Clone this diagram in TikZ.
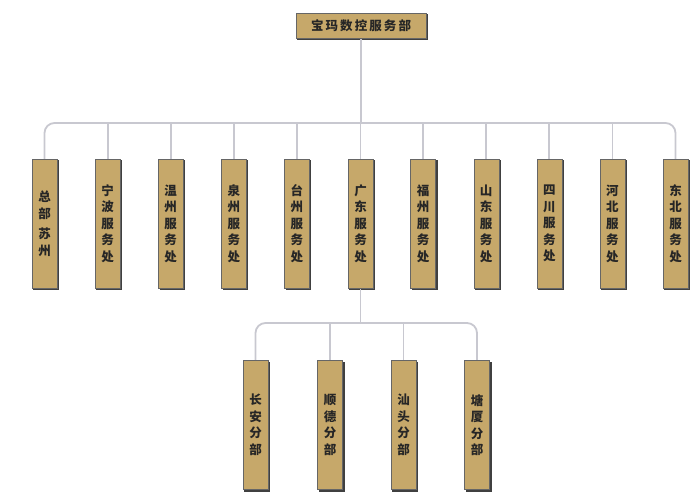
\documentclass[tikz,border=0pt]{standalone}
\usepackage{fontspec}
\newfontfamily\cjk{Noto Sans CJK SC}
\usetikzlibrary{backgrounds}
\definecolor{tan}{RGB}{198,168,106}
\definecolor{wire}{RGB}{200,200,208}
\begin{document}
\begin{tikzpicture}[x=1pt,y=-1pt,
  box/.style={draw=black!60,fill=tan,inner sep=0pt,align=center,
    font=\cjk\bfseries\fontsize{12.5}{16.5}\selectfont,text=black!85},
  col/.style={box,minimum width=25pt,minimum height=129pt},
  shade/.style={fill=black!75},
  wires/.style={wire,line width=1.8pt,rounded corners=10pt}]
\useasboundingbox (0,0) rectangle (700,500);

\node[box,minimum width=130pt,minimum height=25pt] (top) at (361,25.5) {宝\,玛\,数\,控\,服\,务\,部};

\node[col] (zb) at (44.5,223.5) {总\\部\\[4pt]苏\\州};
\node[col] (nb) at (107.6,223.5) {宁\\波\\服\\务\\处};
\node[col] (wz) at (170.7,223.5) {温\\州\\服\\务\\处};
\node[col] (qz) at (233.8,223.5) {泉\\州\\服\\务\\处};
\node[col] (tz) at (296.9,223.5) {台\\州\\服\\务\\处};
\node[col] (gd) at (360.5,223.5) {广\\东\\服\\务\\处};
\node[col] (fz) at (423.1,223.5) {福\\州\\服\\务\\处};
\node[col] (sd) at (486.2,223.5) {山\\东\\服\\务\\处};
\node[col] (sc) at (549.3,223.5) {四\\川\\服\\务\\处};
\node[col] (hb) at (612.4,223.5) {河\\北\\服\\务\\处};
\node[col] (db) at (675.5,223.5) {东\\北\\服\\务\\处};

\node[col] (ca) at (255.5,425) {长\\安\\分\\部};
\node[col] (sde) at (330,425) {顺\\德\\分\\部};
\node[col] (st) at (403.5,425) {汕\\头\\分\\部};
\node[col] (tx) at (477,425) {塘\\厦\\分\\部};

\coordinate (bus) at (361,123);
\coordinate (sub) at (361,323);

\begin{scope}[on background layer]
% shadows
\foreach \n in {top,zb,nb,wz,qz,tz,gd,fz,sd,sc,hb,db,ca,sde,st,tx}
  \fill[shade] ([shift={(1.5,1.5)}]\n.north west) rectangle ([shift={(1.8,1.8)}]\n.south east);

% main bus
\draw[wires] (top.south) -- (top.south |- bus);
\draw[wires] (zb.north) -- (zb.north |- bus) -- (db.north |- bus) -- (db.north);
\foreach \n in {nb,wz,qz,tz,gd,fz,sd,sc,hb}
  \draw[wires] (\n.north) -- (\n.north |- bus);

% branch bus
\draw[wires] (gd.south) -- (gd.south |- sub);
\draw[wires] (ca.north) -- (ca.north |- sub) -- (tx.north |- sub) -- (tx.north);
\draw[wires] (sde.north) -- (sde.north |- sub);
\draw[wires] (st.north) -- (st.north |- sub);
\end{scope}
\end{tikzpicture}
\end{document}
